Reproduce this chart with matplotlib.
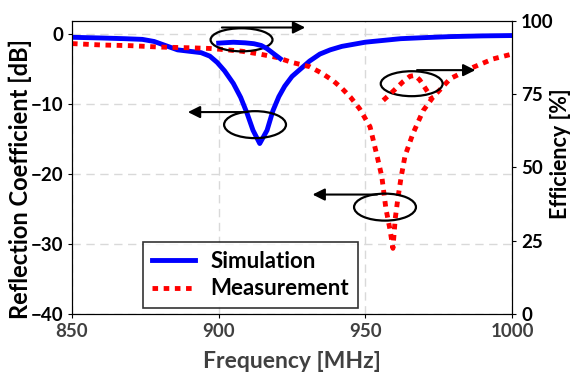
import matplotlib
matplotlib.use('Agg')
import matplotlib.pyplot as plt
from matplotlib.patches import Ellipse

plt.rcParams['font.family'] = ['Lato', 'DejaVu Sans']
plt.rcParams['font.weight'] = 'bold'

# Simulated reflection coefficient [dB]
sim_freq = [850, 860, 868, 874, 878, 882, 886, 890, 894, 897, 899.5, 902, 905, 907.5, 909.7,
            911.7, 914, 916.5, 918.5, 920.5, 922.5, 925, 928, 931, 934.5, 938, 942, 946, 950,
            956, 962, 970, 979, 990, 1000]
sim_s11 = [-0.4, -0.5, -0.6, -0.7, -1.0, -1.6, -2.2, -2.4, -2.6, -3.1, -4.0, -5.2, -7.0, -9.0,
           -11.3, -13.7, -15.6, -13.7, -10.9, -8.9, -7.4, -6.0, -4.9, -3.8, -2.8, -2.2, -1.7,
           -1.4, -1.1, -0.85, -0.6, -0.45, -0.3, -0.2, -0.15]

# Simulated efficiency [%]
sim_eff_freq = [900, 905, 909, 912, 914.5, 916.5, 919, 921]
sim_eff = [92.3, 92.6, 92.4, 92.1, 91.5, 90.4, 88.5, 87.0]

# Measured reflection coefficient [dB]
meas_freq = [850, 860, 870, 880, 890, 897, 903, 908, 914, 920, 925, 931, 935, 939, 942, 945,
             948, 951.6, 954, 955.6, 957, 958.4, 959.4, 960.2, 961.1, 962.2, 963.5, 966.2,
             969.7, 973, 979, 986.7, 993.5, 1000]
meas_s11 = [-1.3, -1.5, -1.6, -1.8, -1.9, -2.0, -2.2, -2.4, -2.8, -3.3, -4.0, -4.6, -5.5, -6.6,
            -7.7, -9.0, -10.6, -13.2, -17.4, -20.3, -24.9, -27.9, -30.6, -26.3, -23.4, -20.4,
            -17.4, -14.2, -10.9, -9.0, -6.3, -4.7, -3.5, -2.8]

# Measured efficiency [%]
meas_eff_freq = [956.1, 958.5, 960.7, 963, 965.2, 966.9, 968.5, 969.8, 971.3, 972.6]
meas_eff = [72.8, 75.0, 77.1, 79.3, 81.0, 81.3, 79.8, 77.9, 75.6, 73.4]

# annotation ellipses (center x, center y in dB, width MHz, height dB) and arrows (x from, x to, y)
ellipses = [(907.8, -0.76, 21.1, 3.3), (912.4, -12.9, 21.1, 3.86),
            (965.8, -7.04, 21.1, 3.57), (956.7, -24.7, 21.1, 3.86)]
arrows = [(901.1, 929.5, 1.0), (909.7, 889.5, -11.1), (967.6, 987.5, -5.1), (954.0, 932.0, -22.9)]

dots = (0, (1.15, 1.15))

fig = plt.figure(figsize=(5.7, 3.73), dpi=100)
ax = fig.add_axes([0.1263, 0.158, 0.772, 0.787])
ax2 = ax.twinx()

ax.plot(sim_freq, sim_s11, color='#0000ff', lw=3.5, solid_joinstyle='round', label='Simulation', zorder=3)
ax.plot(meas_freq, meas_s11, color='#ff0000', lw=3.5, linestyle=dots, dash_capstyle='butt',
        label='Measurement', zorder=3)
ax2.plot(sim_eff_freq, sim_eff, color='#0000ff', lw=3.5, zorder=3)
ax2.plot(meas_eff_freq, meas_eff, color='#ff0000', lw=3.5, linestyle=dots, dash_capstyle='butt', zorder=3)

for cx, cy, w, h in ellipses:
    ax.add_patch(Ellipse((cx, cy), w, h, fill=False, edgecolor='black', lw=1.6, zorder=4))
for x0, x1, y in arrows:
    ax.annotate('', xy=(x1, y), xytext=(x0, y),
                arrowprops=dict(arrowstyle='-|>', color='black', lw=1.5, mutation_scale=18,
                                shrinkA=0, shrinkB=0), zorder=4)

ax.set_xlim(850, 1000)
ax.set_ylim(-40, 2)
ax2.set_ylim(0, 100)
ax.set_xticks([850, 900, 950, 1000])
ax.set_yticks([-40, -30, -20, -10, 0])
ax2.set_yticks([0, 25, 50, 75, 100])

ax.grid(True, color='#d9d9d9', linestyle=(0, (6, 4)), lw=1)
ax.set_axisbelow(True)

ax.tick_params(axis='x', labelsize=13.5, labelcolor='#404040', length=3)
ax.tick_params(axis='y', labelsize=13.5, length=3)
ax2.tick_params(axis='y', labelsize=13.5, length=3)
for lab in ax.get_xticklabels() + ax.get_yticklabels() + ax2.get_yticklabels():
    lab.set_fontweight('bold')

ax.set_xlabel('Frequency [MHz]', fontsize=16.5, fontweight='bold', color='#404040')
ax.xaxis.set_label_coords(0.5, -0.125)
ax.set_ylabel('Reflection Coefficient [dB]', fontsize=17, fontweight='bold')
ax.yaxis.set_label_coords(-0.091, 0.46)
ax2.set_ylabel('Efficiency [%]', fontsize=15.5, fontweight='bold', rotation=90)
ax2.yaxis.set_label_coords(1.086, 0.545)

leg = ax.legend(loc='lower left', bbox_to_anchor=(0.161, 0.02), fontsize=16, frameon=True,
                fancybox=False, edgecolor='black', handlelength=1.95, handletextpad=0.7,
                borderpad=0.4, labelspacing=0.3, borderaxespad=0)
leg.get_frame().set_linewidth(1.2)
for t in leg.get_texts():
    t.set_fontweight('bold')

fig.savefig('out.png', dpi=100)
